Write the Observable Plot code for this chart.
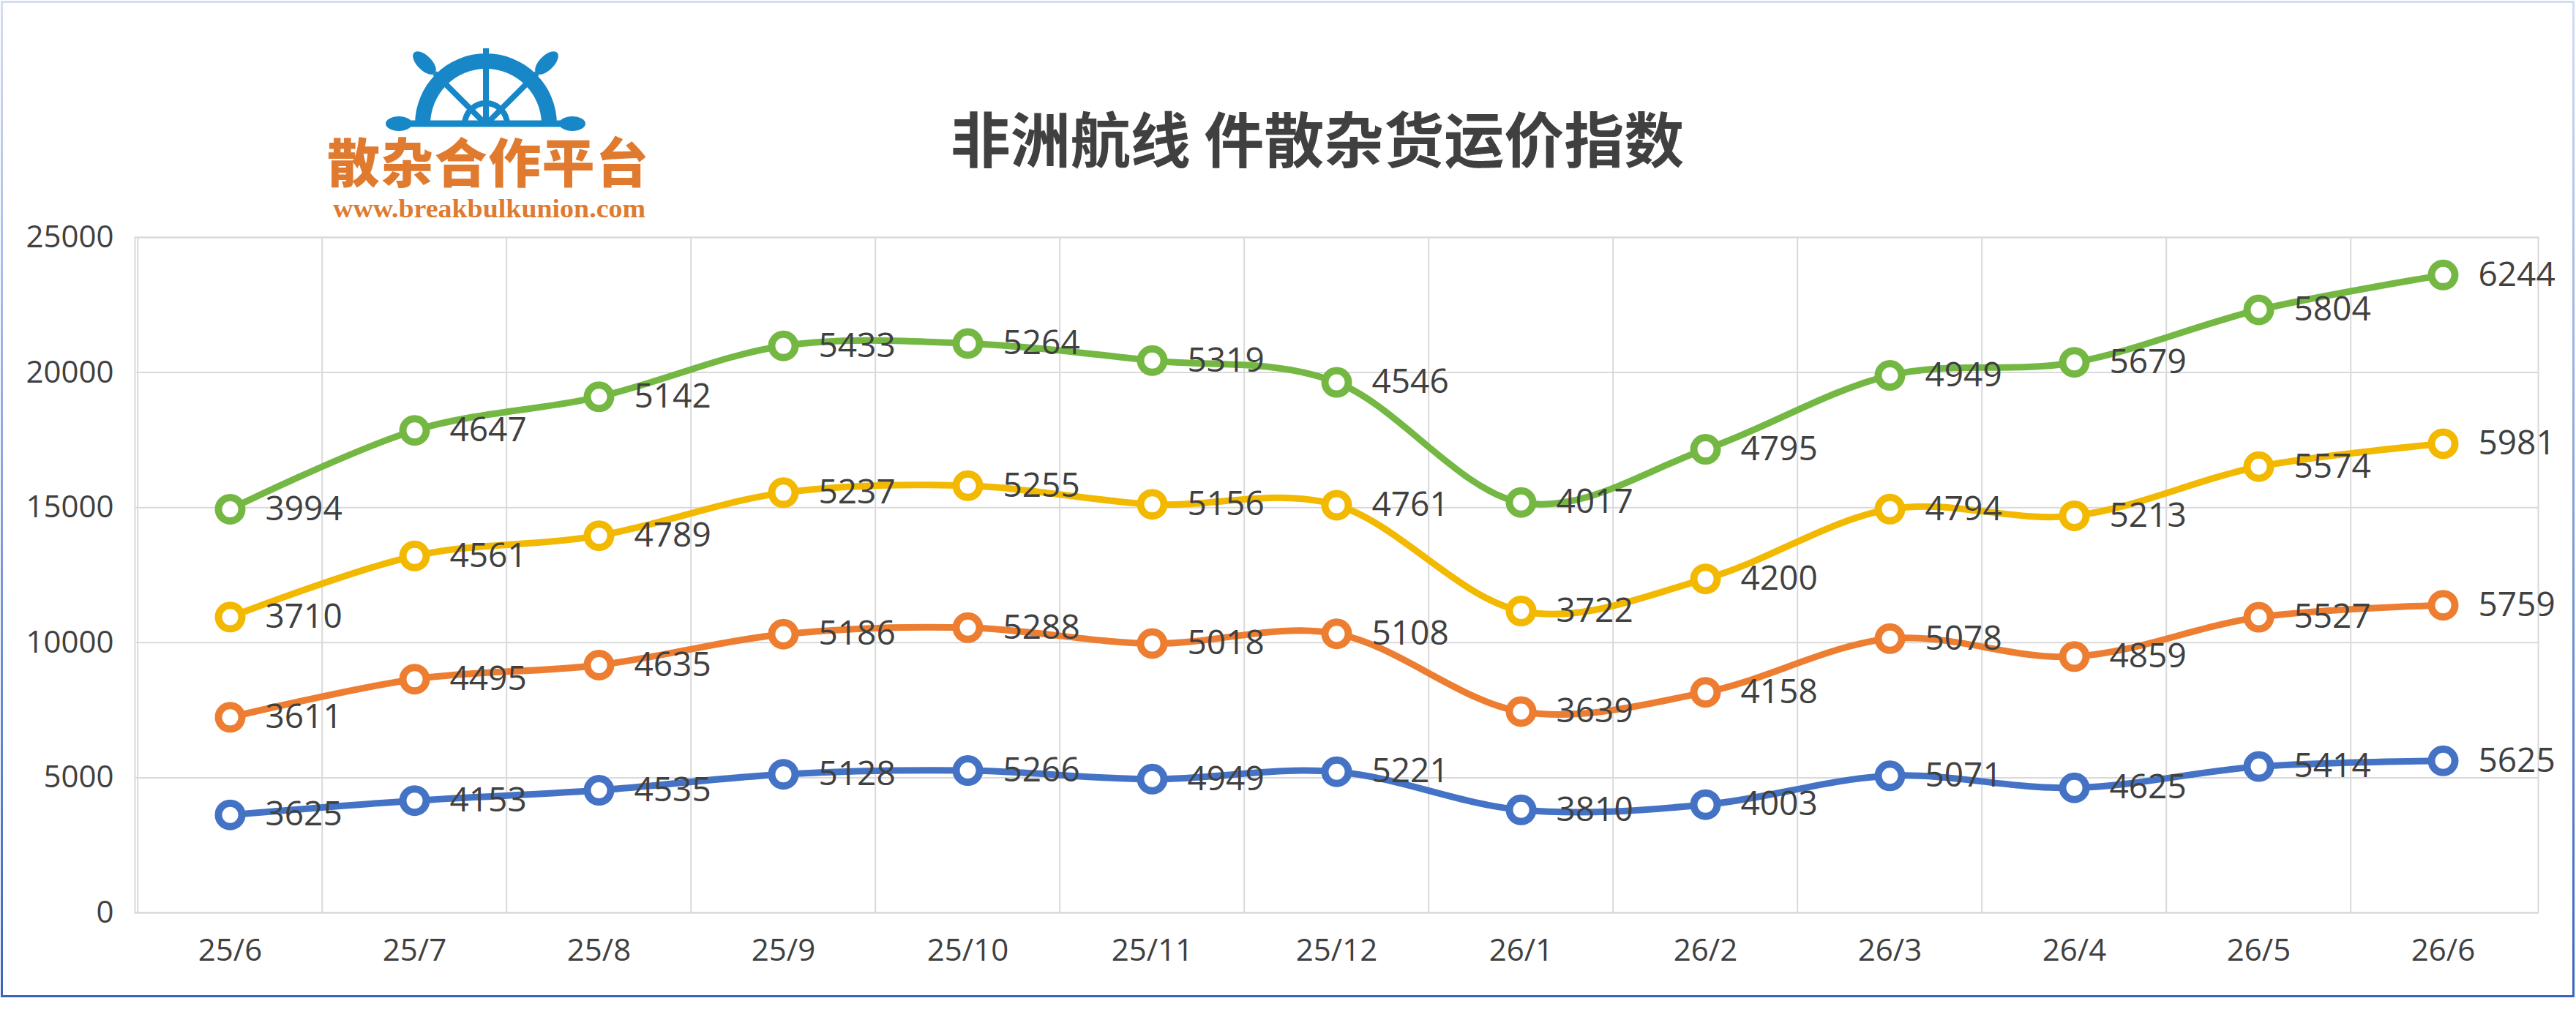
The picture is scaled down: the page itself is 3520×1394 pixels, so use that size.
<!DOCTYPE html>
<html><head><meta charset="utf-8">
<script src="https://cdn.jsdelivr.net/npm/d3@7"></script>
<script src="https://cdn.jsdelivr.net/npm/@observablehq/plot@0.6"></script>
<style>
html,body{margin:0;padding:0;background:#fff;}
#wrap{position:relative;width:3520px;height:1394px;overflow:hidden;background:#fff;}
#border{position:absolute;left:1px;top:1px;width:3517px;height:1362px;box-sizing:border-box;border:3px solid #3a64c0;border-image:linear-gradient(to bottom,#d3ddf3,#3a64c0) 1;}
#title{position:absolute;left:1800px;top:146px;transform:translateX(-50%);font-family:"Noto Sans CJK SC";font-weight:700;font-size:82px;line-height:82px;color:#404040;white-space:nowrap;}
#logo{position:absolute;left:0;top:0;}
#chart{position:absolute;left:0;top:298px;}
</style></head>
<body>
<div id="wrap">
  <div id="border"></div>
  <div id="chart"></div>
  <svg id="logo" width="920" height="320" xmlns="http://www.w3.org/2000/svg">
    <g fill="#1787c8">
      <path d="M567,170 A97,97 0 0 1 761,170 L740,170 A76,76 0 0 0 588,170 Z"/>
      <ellipse cx="580" cy="86" rx="20" ry="10" transform="rotate(45 580 86)"/>
      <ellipse cx="747" cy="86" rx="20" ry="10" transform="rotate(-45 747 86)"/>
      <ellipse cx="545" cy="169" rx="18" ry="10"/>
      <ellipse cx="782" cy="169" rx="18" ry="10"/>
    </g>
    <g stroke="#1787c8" fill="none">
      <line x1="664" y1="66" x2="664" y2="170" stroke-width="8"/>
      <line x1="664" y1="170" x2="594" y2="100" stroke-width="8"/>
      <line x1="664" y1="170" x2="734" y2="100" stroke-width="8"/>
      <path d="M635,170 A29,29 0 0 1 693,170" stroke-width="8"/>
      <line x1="545" y1="169" x2="782" y2="169" stroke-width="9"/>
    </g>
    <text x="447" y="249" font-family="Noto Sans CJK SC" font-weight="900" font-size="72" fill="#e07a2f" textLength="439" lengthAdjust="spacing">散杂合作平台</text>
    <text x="455" y="297" font-family="Liberation Serif" font-weight="700" font-size="35" fill="#e07a2f" textLength="427" lengthAdjust="spacingAndGlyphs">www.breakbulkunion.com</text>
  </svg>
  <div id="title">非洲航线 件散杂货运价指数</div>
</div>
<script>
const months = ["25/6","25/7","25/8","25/9","25/10","25/11","25/12","26/1","26/2","26/3","26/4","26/5","26/6"];
const seriesNames = ["系列1","系列2","系列3","系列4"];
const seriesColors = ["#4472c4","#ed7d31","#f2b900","#74b843"];
const blue   = [3625,4153,4535,5128,5266,4949,5221,3810,4003,5071,4625,5414,5625];
const orange = [3611,4495,4635,5186,5288,5018,5108,3639,4158,5078,4859,5527,5759];
const yellow = [3710,4561,4789,5237,5255,5156,4761,3722,4200,4794,5213,5574,5981];
const green  = [3994,4647,5142,5433,5264,5319,4546,4017,4795,4949,5679,5804,6244];
const yTicks = [0,5000,10000,15000,20000,25000];

const seriesValues = [blue, orange, yellow, green];
const data = seriesNames.flatMap((s, i) => months.map((m, j) => ({month: m, series: s, value: seriesValues[i][j]})));

const W = 3520, H = 1062, ML = 184, MR = 52, MT = 26, MB = 113;
const step = (W - ML - MR) / months.length;
const stacked = o => Plot.stackY2({x: "month", y: "value", z: "series", ...o});

const chart = Plot.plot({
  width: W, height: H,
  marginLeft: ML, marginRight: MR, marginTop: MT, marginBottom: MB,
  style: {fontFamily: '"Open Sans", sans-serif', color: "#404040", background: "transparent", overflow: "visible"},
  x: {type: "point", domain: months, padding: 0.5, label: null},
  y: {domain: [0, 25000], label: null},
  color: {domain: seriesNames, range: seriesColors},
  marks: [
    Plot.gridY(yTicks, {stroke: "#d9d9d9", strokeOpacity: 1, strokeWidth: 2}),
    Plot.gridX(months, {stroke: "#d9d9d9", strokeOpacity: 1, strokeWidth: 2, dx: -step / 2}),
    Plot.frame({stroke: "#d9d9d9", strokeWidth: 2}),
    Plot.axisY(yTicks, {tickSize: 0, tickPadding: 29, fontSize: 42, tickFormat: d3.format("d"), label: null}),
    Plot.axisX(months, {tickSize: 0, tickPadding: 36, fontSize: 42, label: null}),
    Plot.line(data, stacked({stroke: "series", strokeWidth: 9, curve: "cardinal"})),
    Plot.dot(data, stacked({stroke: "series", fill: "white", r: 16, strokeWidth: 10})),
    Plot.text(data, stacked({text: d => String(d.value), dx: 48, textAnchor: "start", fontSize: 46, fill: "#404040"}))
  ]
});
document.getElementById("chart").appendChild(chart);
</script>
</body></html>
